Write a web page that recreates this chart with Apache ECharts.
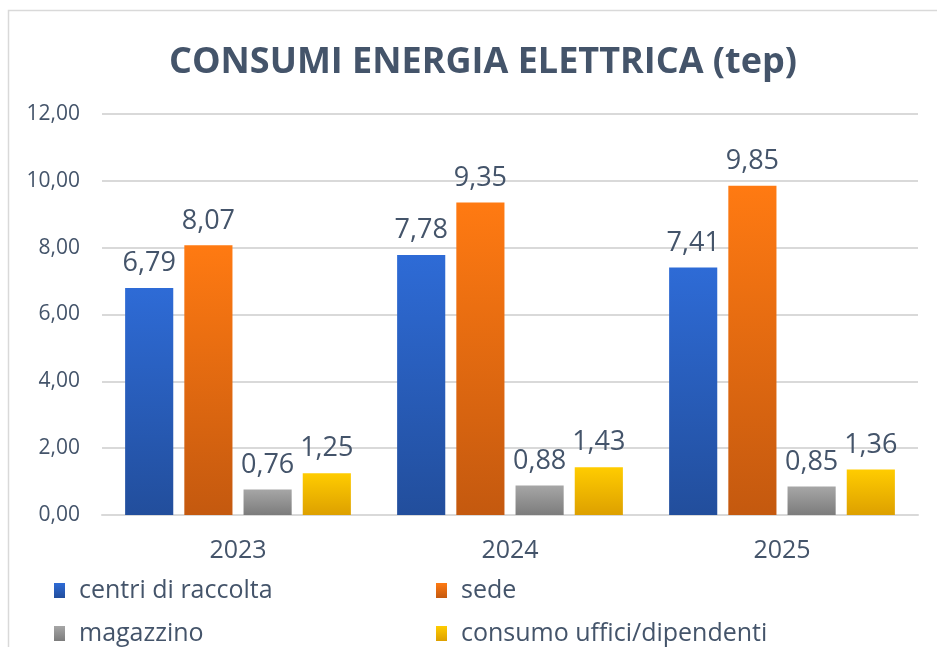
<!DOCTYPE html>
<html>
<head>
<meta charset="utf-8">
<script src="https://cdn.jsdelivr.net/npm/echarts@6/dist/echarts.min.js"></script>
<style>
  html, body { margin: 0; padding: 0; background: #fff; }
  #container { width: 937px; height: 647px; }
</style>
</head>
<body>
<div id="container"></div>
<script>
var years = ['2023', '2024', '2025'];
var centri = [6.79, 7.78, 7.41];
var sede = [8.07, 9.35, 9.85];
var magazzino = [0.76, 0.88, 0.85];
var uffici = [1.25, 1.43, 1.36];
var seriesNames = ['centri di raccolta', 'sede', 'magazzino', 'consumo uffici/dipendenti'];

var font = "'Open Sans', sans-serif";
var textColor = '#44546A';

function grad(top, bottom) {
    return new echarts.graphic.LinearGradient(0, 0, 0, 1, [
        {offset: 0, color: top},
        {offset: 1, color: bottom}
    ]);
}
function fmt(v) {
    return v.toFixed(2).replace('.', ',');
}

var colors = [
    grad('#2E6BD6', '#224E9C'),
    grad('#FF7A12', '#C4590F'),
    grad('#A6A6A6', '#7C7C7C'),
    grad('#FFCC00', '#DDA000')
];
var datasets = [centri, sede, magazzino, uffici];

var series = [];
for (var i = 0; i < datasets.length; i++) {
    series.push({
        name: seriesNames[i],
        type: 'bar',
        data: datasets[i],
        barGap: '23%',
        barCategoryGap: '17%',
        itemStyle: {color: colors[i]},
        label: {
            show: true,
            position: 'top',
            distance: 11,
            color: textColor,
            fontFamily: font,
            fontSize: 27,
            formatter: function (p) { return fmt(p.value); }
        }
    });
}

// legend slots: two columns, two rows
var legendPos = [[54, 578], [436, 578], [54, 621], [436, 621]];
var legends = [];
for (var j = 0; j < seriesNames.length; j++) {
    legends.push({
        data: [seriesNames[j]],
        left: legendPos[j][0],
        top: legendPos[j][1],
        padding: 0,
        itemWidth: 11,
        itemHeight: 15,
        icon: 'rect',
        textStyle: {color: textColor, fontFamily: font, fontSize: 25, padding: [0, 0, 0, 9]}
    });
}

var myChart = echarts.init(document.getElementById('container'));
var option = {
    animation: false,
    graphic: [{
        type: 'rect',
        shape: {x: 8.5, y: 10.5, width: 940, height: 650},
        style: {fill: 'none', stroke: '#D9D9D9', lineWidth: 1.5},
        silent: true
    }],
    title: {
        text: 'CONSUMI ENERGIA ELETTRICA (tep)',
        left: 164,
        top: 40,
        textStyle: {
            color: textColor,
            fontFamily: font,
            fontWeight: 'bold',
            fontSize: 36
        }
    },
    legend: legends,
    grid: {
        left: 102,
        right: 19,
        top: 114,
        bottom: 132,
        containLabel: false
    },
    xAxis: {
        type: 'category',
        data: years,
        axisLine: {lineStyle: {color: '#D9D9D9', width: 2}},
        axisTick: {show: false},
        axisLabel: {color: textColor, fontFamily: font, fontSize: 25, margin: 23}
    },
    yAxis: {
        type: 'value',
        min: 0,
        max: 12,
        interval: 2,
        axisLine: {show: false},
        axisTick: {show: false},
        splitLine: {lineStyle: {color: '#D9D9D9', width: 2}},
        axisLabel: {
            color: textColor,
            fontFamily: font,
            fontSize: 21,
            margin: 22,
            formatter: function (v) { return fmt(v); }
        }
    },
    series: series
};
myChart.setOption(option);
</script>
</body>
</html>
